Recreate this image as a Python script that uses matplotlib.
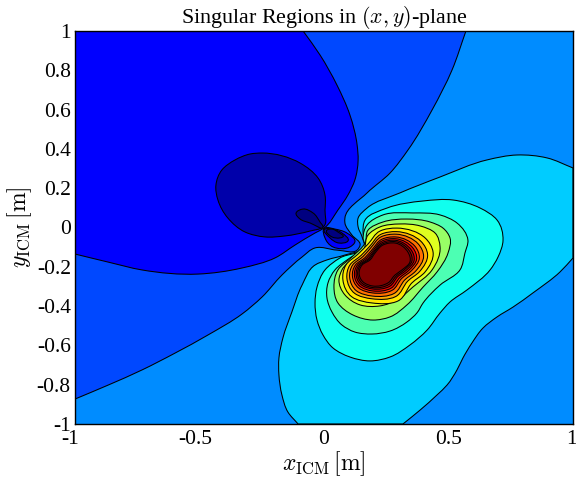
import numpy as np
import matplotlib
matplotlib.use("Agg")
import matplotlib.pyplot as plt
from matplotlib.path import Path
from matplotlib.patches import PathPatch, Rectangle
from matplotlib.transforms import ScaledTranslation

plt.rcParams['font.family'] = ['Liberation Serif', 'DejaVu Serif']
plt.rcParams['mathtext.fontset'] = 'cm'

title_text = r'Singular Regions in $(x,y)$-plane'
x_label = r'$x_{\mathrm{ICM}}\,[\mathrm{m}]$'
y_label = r'$y_{\mathrm{ICM}}\,[\mathrm{m}]$'
x_ticks = [-1, -0.5, 0, 0.5, 1]
x_tick_labels = ['-1', '-0.5', '0', '0.5', '1']
y_ticks = [-1, -0.8, -0.6, -0.4, -0.2, 0, 0.2, 0.4, 0.6, 0.8, 1]
y_tick_labels = ['-1', '-0.8', '-0.6', '-0.4', '-0.2', '0', '0.2', '0.4', '0.6', '0.8', '1']

# contour outlines (data units)
c0_x = [-1, -.867, -.731, -.506, -.329, -.197, -.116, -.036, 0, .056, .096, .124, .137, .133, .104, .052, -.016, -.084]
c0_y = [-.135, -.176, -.216, -.237, -.206, -.155, -.089, -.028, -.003, .089, .165, .242, .343, .420, .573, .725, .878, 1]

c1_x = [-1, -.867, -.731, -.598, -.466, -.329, -.249, -.169, -.088, -.036, .052, .133, .145, .112, .084, .084, .173, .265, .337, .434, .514, .570]
c1_y = [-.873, -.802, -.725, -.639, -.547, -.440, -.354, -.242, -.150, -.104, -.115, -.115, -.089, -.038, .023, .048, .176, .277, .394, .598, .801, 1]

c3a_x = [-.104, -.145, -.169, -.181, -.181, -.165, -.129, -.088, -.036, .012, .084, .161, .153, .137, .137, .173, .305, .466, .655, .775, .896, 1]
c3a_y = [-1, -.939, -.852, -.750, -.664, -.562, -.430, -.293, -.191, -.165, -.140, -.099, -.048, .003, .048, .099, .176, .257, .344, .369, .354, .303]
c3b_x = [1, .948, .839, .759, .695, .639, .594, .558, .534, .494, .454, .386, .317]
c3b_y = [-.155, -.226, -.333, -.405, -.455, -.511, -.588, -.664, -.725, -.802, -.852, -.929, -1]

c4_x = [.165, .253, .398, .518, .627, .695, .719, .699, .667, .574, .506, .466, .414, .345, .265, .185, .104, .036, -.004, -.028, -.036, -.028, .004, .064, .169, .157]
c4_y = [.038, .099, .135, .140, .099, .038, -.064, -.150, -.216, -.318, -.379, -.435, -.522, -.598, -.659, -.679, -.659, -.613, -.547, -.471, -.384, -.303, -.216, -.155, -.099, -.028]

c5_x = [.173, .237, .357, .466, .534, .578, .566, .546, .466, .398, .373, .333, .265, .193, .124, .072, .032, .012, .016, .044, .104, .165, .157]
c5_y = [.013, .064, .074, .064, .023, -.064, -.130, -.216, -.293, -.384, -.435, -.481, -.527, -.542, -.532, -.496, -.430, -.359, -.282, -.216, -.155, -.104, -.053]

c6_x = [.177, .237, .333, .426, .478, .506, .498, .454, .398, .333, .265, .197, .116, .056, .040, .056, .112, .165]
c6_y = [-.013, .028, .043, .028, -.003, -.053, -.130, -.226, -.303, -.394, -.455, -.471, -.445, -.384, -.303, -.216, -.150, -.079]

c7_x = [.177, .225, .305, .386, .446, .466, .434, .357, .293, .225, .145, .084, .060, .072, .161]
c7_y = [-.038, .003, .018, .008, -.028, -.099, -.216, -.303, -.369, -.399, -.394, -.343, -.267, -.216, -.109]

c8_x = [.177, .225, .293, .406, .438, .406, .353, .297, .193, .112, .076, .088, .137]
c8_y = [-.084, -.018, -.003, -.053, -.125, -.226, -.282, -.374, -.384, -.353, -.267, -.191, -.135]

c9_x = [.184, .228, .291, .389, .416, .384, .337, .287, .194, .123, .092, .104, .149]
c9_y = [-.095, -.035, -.021, -.070, -.137, -.224, -.272, -.352, -.363, -.335, -.259, -.191, -.142]

c10_x = [.188, .230, .290, .378, .400, .368, .325, .281, .195, .130, .103, .115, .157]
c10_y = [-.103, -.047, -.034, -.083, -.146, -.222, -.266, -.336, -.349, -.322, -.253, -.191, -.147]

c11_x = [.194, .232, .288, .365, .383, .351, .313, .273, .195, .139, .114, .126, .165]
c11_y = [-.111, -.060, -.048, -.095, -.155, -.220, -.258, -.320, -.333, -.308, -.246, -.191, -.153]

c12_x = [.197, .234, .287, .357, .372, .340, .305, .269, .196, .144, .122, .134, .171]
c12_y = [-.117, -.068, -.057, -.104, -.161, -.219, -.254, -.309, -.323, -.299, -.242, -.191, -.156]

c13_x = [.200, .235, .286, .349, .362, .330, .297, .264, .196, .149, .129, .141, .176]
c13_y = [-.122, -.076, -.065, -.112, -.167, -.218, -.249, -.299, -.313, -.291, -.238, -.191, -.160]

c14_x = [.202, .236, .286, .343, .353, .321, .291, .261, .197, .153, .135, .147, .181]
c14_y = [-.126, -.083, -.072, -.119, -.171, -.217, -.246, -.290, -.306, -.284, -.235, -.191, -.162]

core_x = [.205, .237, .285, .337, .345, .313, .285, .257, .197, .157, .141, .153, .185]
core_y = [-.130, -.089, -.079, -.125, -.176, -.216, -.242, -.282, -.298, -.277, -.232, -.191, -.165]

ellipse_x = [-.004, .004, .004, -.024, -.096, -.249, -.297, -.357, -.410, -.434, -.426, -.386, -.317, -.237, -.157, -.056]
ellipse_y = [.002, .089, .165, .252, .328, .379, .374, .344, .293, .216, .140, .048, -.023, -.048, -.043, -.018]

tear_x = [-.004, -.016, -.044, -.084, -.112, -.096, -.056]
tear_y = [.002, .028, .074, .094, .074, .043, .023]

lobe1_x = [.004, .004, .036, .104, .124, .092, .044]
lobe1_y = [-.003, -.053, -.099, -.099, -.074, -.028, -.008]
lobe2_x = [.004, .024, .060, .096, .072, .032]
lobe2_y = [-.008, -.053, -.079, -.069, -.028, -.008]
lobe3_x = [.012, .032, .064, .076, .056, .032]
lobe3_y = [-.013, -.048, -.053, -.048, -.023, -.008]

# band colours
col_deep = '#000080'
col_navy = '#0000AA'
col_blue = '#0000FF'
col_b1 = '#0048FF'
col_b2 = '#008CFF'
col_b3 = '#00CCFF'
band_cols = ['#10FFEF', '#4CFFB3', '#98FF66', '#DFFF20', '#FFE600', '#FFAE00',
             '#FF7000', '#FF3400', '#EE0000', '#B80000', '#900000', '#800000']


def unit(v):
    n = np.hypot(*v)
    return v / n if n > 0 else v


def bez(xs, ys, closed):
    p = np.column_stack([xs, ys]).astype(float)
    n = len(p)
    tang = []
    for i in range(n):
        has_prev = closed or i > 0
        has_next = closed or i + 1 < n
        if has_prev and has_next:
            d0 = p[i] - p[(i - 1) % n]
            d1 = p[(i + 1) % n] - p[i]
            tang.append(unit(unit(d0) * np.hypot(*d1) + unit(d1) * np.hypot(*d0)))
        elif has_next:
            tang.append(unit(p[i + 1] - p[i]))
        else:
            tang.append(unit(p[i] - p[i - 1]))
    verts, codes = [], []
    count = n if closed else n - 1
    for i in range(count):
        j = (i + 1) % n
        h = np.hypot(*(p[j] - p[i])) / 3
        verts += [p[i] + tang[i] * h, p[j] - tang[j] * h, p[j]]
        codes += [Path.CURVE4] * 3
    return p[0], verts, codes


def closed_path(xs, ys):
    start, v, c = bez(xs, ys, True)
    return Path([start] + v, [Path.MOVETO] + c)


def open_path(segments, corners=()):
    verts, codes = [], []
    for k, (xs, ys) in enumerate(segments):
        start, v, c = bez(xs, ys, False)
        verts.append(start)
        codes.append(Path.MOVETO if k == 0 else Path.LINETO)
        verts += v
        codes += c
    for q in corners:
        verts.append(q)
        codes.append(Path.LINETO)
    verts.append(verts[0])
    codes.append(Path.CLOSEPOLY)
    return Path(verts, codes)


fig = plt.figure(figsize=(5.76, 4.8), dpi=100)
ax = fig.add_axes([75 / 576, 1 - 424 / 480, 498 / 576, 393 / 480])
ax.set_xlim(-1, 1)
ax.set_ylim(-1, 1)

lw = 0.75
ax.add_patch(Rectangle((-1, -1), 2, 2, fc=col_b2, ec='none', zorder=0))


def add(path, colour):
    ax.add_patch(PathPatch(path, fc=colour, ec='black', lw=lw, zorder=1))


add(open_path([(c1_x, c1_y)], [(-1, 1)]), col_b1)
add(open_path([(c0_x, c0_y)], [(-1, 1)]), col_blue)
add(closed_path(ellipse_x, ellipse_y), col_navy)
add(closed_path(tear_x, tear_y), col_deep)
add(closed_path(lobe1_x, lobe1_y), col_blue)
add(closed_path(lobe2_x, lobe2_y), col_navy)
add(closed_path(lobe3_x, lobe3_y), col_deep)
add(open_path([(c3a_x, c3a_y), (c3b_x, c3b_y)]), col_b3)

nested = [(c4_x, c4_y), (c5_x, c5_y), (c6_x, c6_y), (c7_x, c7_y), (c8_x, c8_y), (c9_x, c9_y),
          (c10_x, c10_y), (c11_x, c11_y), (c12_x, c12_y), (c13_x, c13_y), (c14_x, c14_y), (core_x, core_y)]
for (xs, ys), colour in zip(nested, band_cols):
    add(closed_path(xs, ys), colour)

ax.set_xticks(x_ticks)
ax.set_xticklabels(x_tick_labels, fontsize=15.5)
ax.set_yticks(y_ticks)
ax.set_yticklabels(y_tick_labels, fontsize=15.5)
ax.tick_params(axis='y', length=0, pad=3)
ax.tick_params(axis='x', length=0, pad=4.5)
for lab, val in zip(ax.get_xticklabels(), x_ticks):
    if val < 0:
        lab.set_transform(lab.get_transform() + ScaledTranslation(-4.5 / 100, 0, fig.dpi_scale_trans))
    elif val == 1:
        lab.set_transform(lab.get_transform() + ScaledTranslation(-1.5 / 100, 0, fig.dpi_scale_trans))
for s in ax.spines.values():
    s.set_linewidth(1.0)
    s.set_zorder(5)

ax.set_title(title_text, fontsize=15.8, pad=6)
ax.set_xlabel(x_label, fontsize=17, labelpad=0)
ax.set_ylabel(y_label, fontsize=17, labelpad=2)

fig.savefig('out.png', dpi=100)
